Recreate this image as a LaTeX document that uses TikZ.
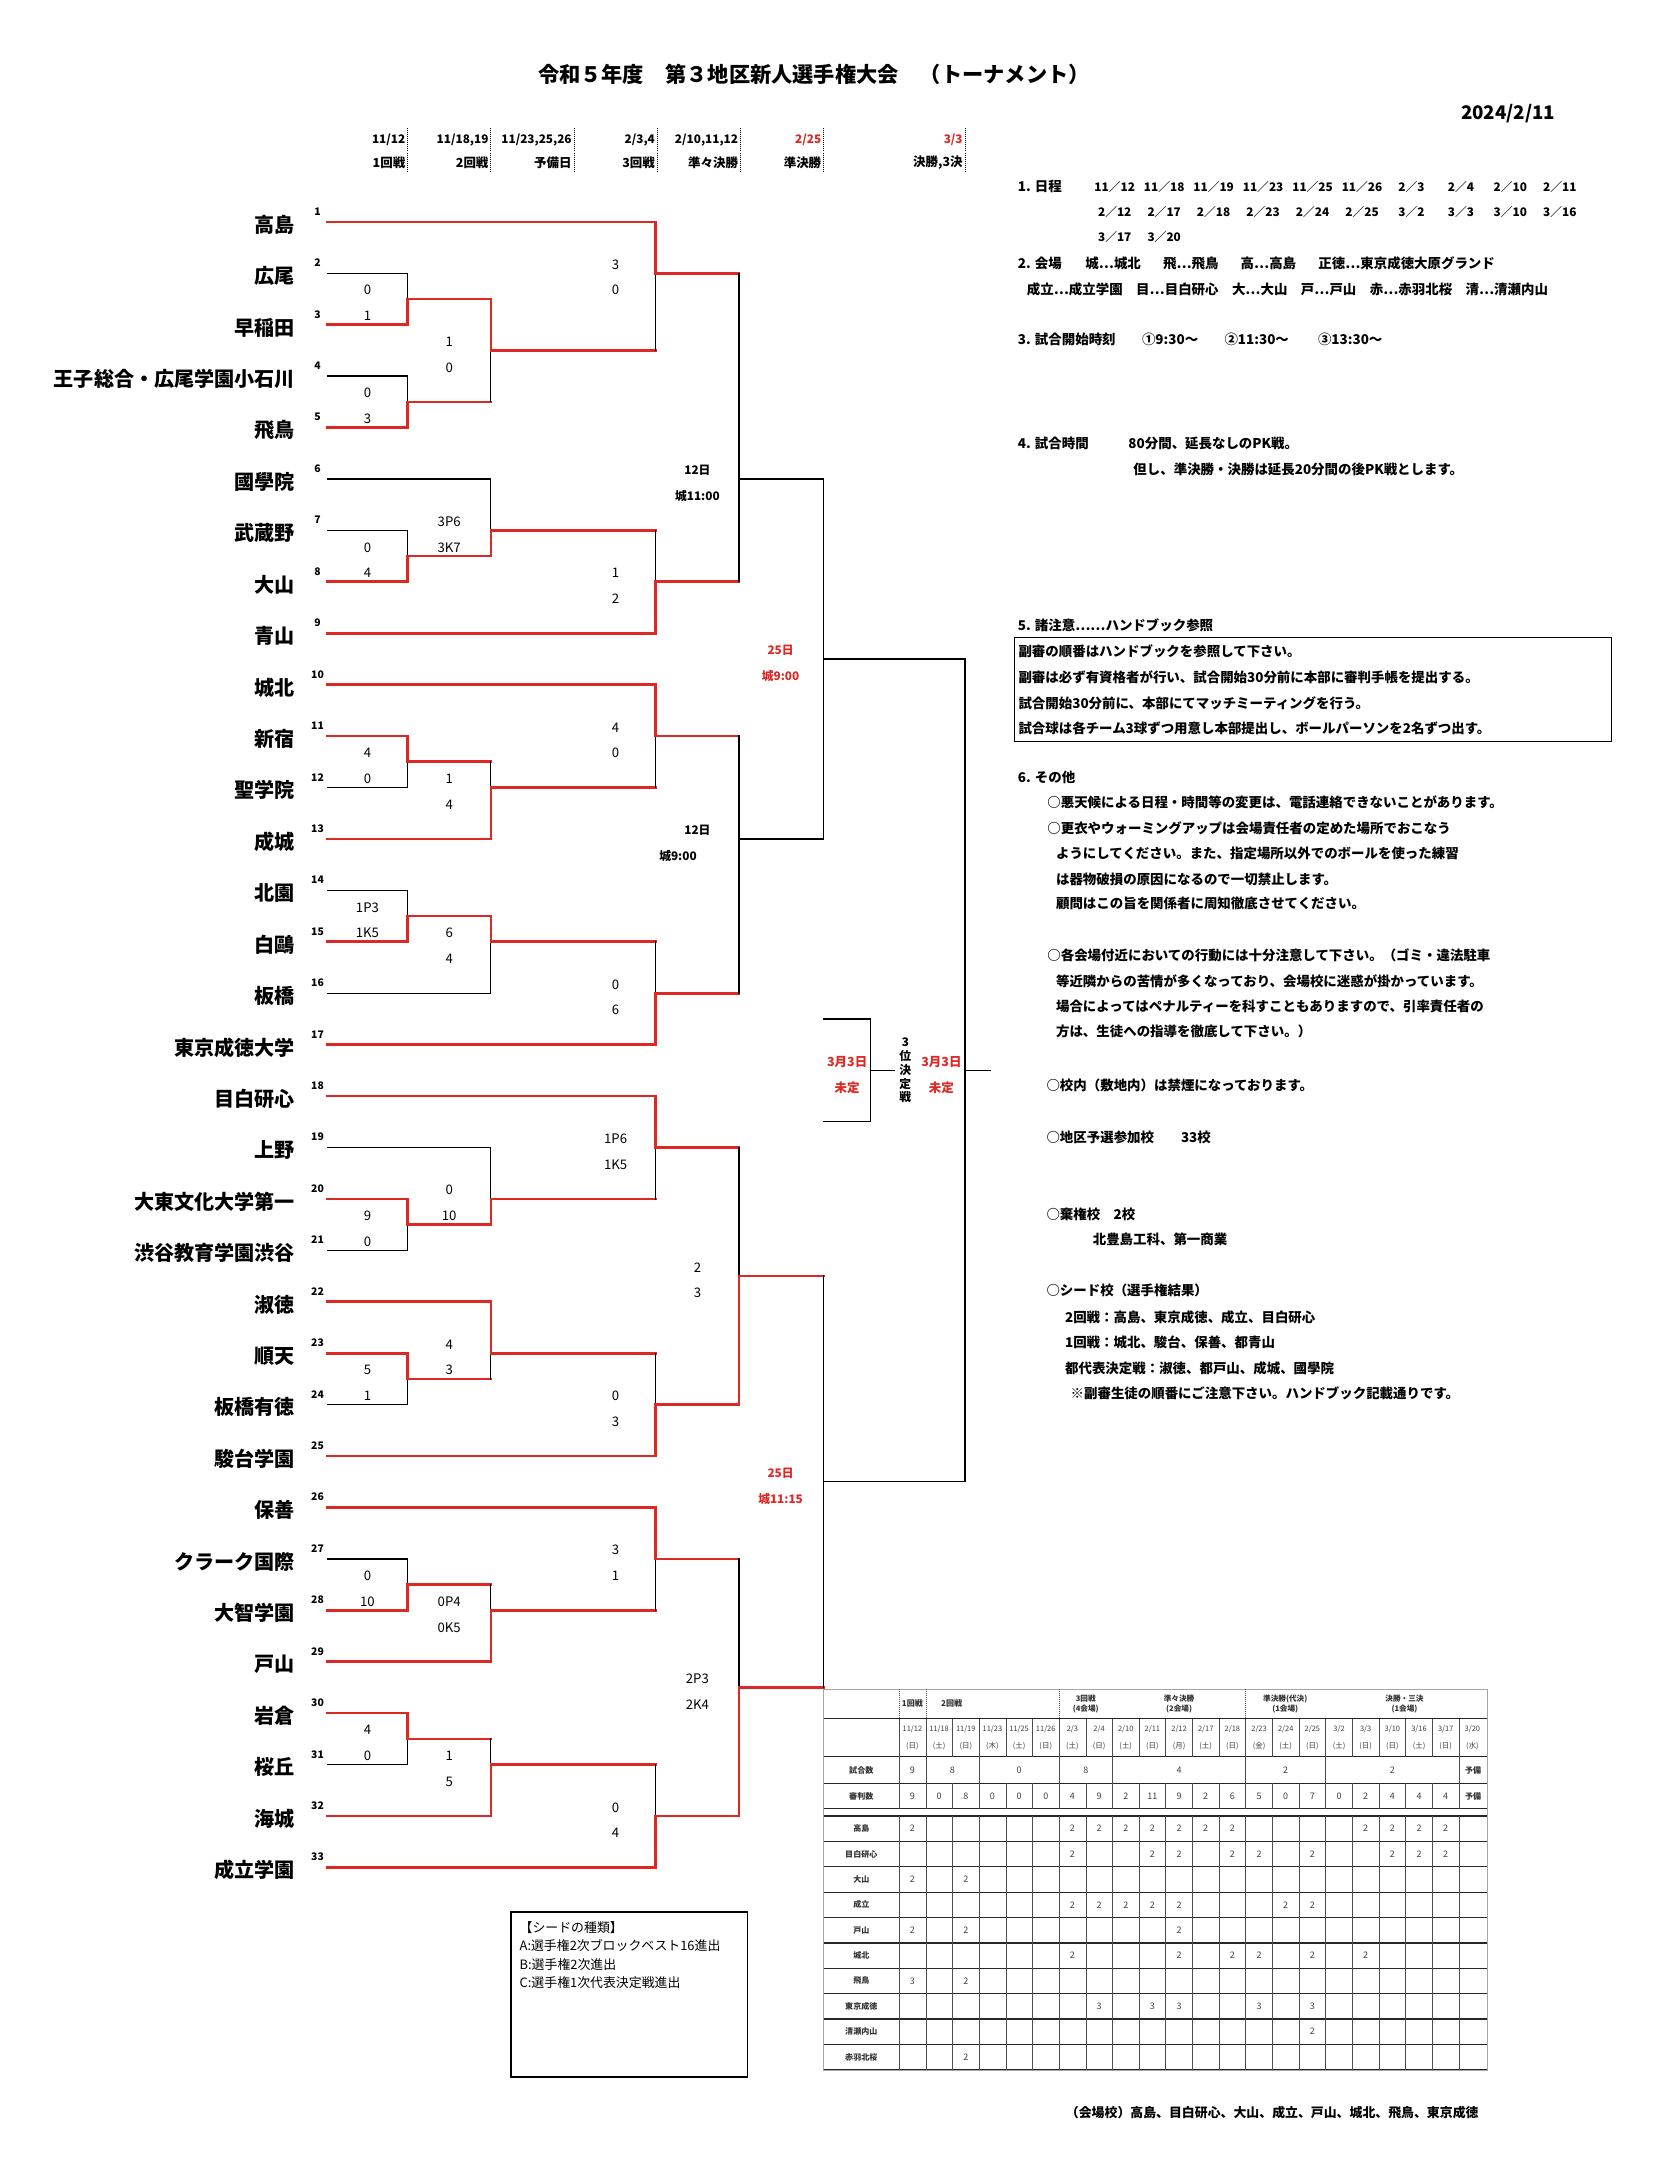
\documentclass[tikz,border=0pt]{standalone}
\usepackage{fontspec}
\setmainfont{Noto Sans CJK JP}
\usepackage{tikz}
\definecolor{bred}{RGB}{221,40,36}
\newcommand\fsz[1]{\fontsize{#1}{#1}\selectfont}

\tikzset{
  team/.style={anchor=east,inner sep=0pt,font=\bfseries\fsz{14.5}},
  num/.style={inner sep=0pt,font=\bfseries\fsz{7.5}},
  score/.style={inner sep=0pt,font=\fsz{9.5}},
  sched/.style={inner sep=0pt,font=\bfseries\fsz{8.5}},
  rsched/.style={sched,text=bred},
  win/.style={draw=bred,line width=1.9pt,line cap=rect},
  lose/.style={draw=black,line width=0.9pt,line cap=rect},
  hdr/.style={anchor=east,inner sep=0pt,font=\bfseries\fsz{8.5}},
  hsep/.style={densely dotted,line width=0.5pt},
  note/.style={anchor=west,inner sep=0pt,font=\bfseries\fsz{9.7}},
  dte/.style={inner sep=0pt,font=\bfseries\fsz{8.5}},
  tline/.style={line width=0.4pt,draw=black!70},
  trow/.style={line width=0.9pt,draw=black!85},
  cell/.style={inner sep=0pt,font=\fsz{6.5},text=black!75},
  rlab/.style={inner sep=0pt,font=\bfseries\fsz{5.8},text=black!80},
}

\begin{document}
\begin{tikzpicture}[x=1pt,y=-1pt]
\fill[white] (0,0) rectangle (1199,1568);
\useasboundingbox (0,0) rectangle (1199,1568);

% heading
\node[inner sep=0pt,font=\bfseries\fsz{15.3}] (ttl) at (587,54) {令和５年度　第３地区新人選手権大会　（トーナメント）};
\node[anchor=east,inner sep=0pt,font=\bfseries\fsz{13.5}] (day) at (1122,82) {2024/2/11};

\foreach \x in {294,354,414,474,534,594,696}
  \draw[hsep] (\x,92) -- (\x,125);
\node[hdr] (dt1) at (292.5,101) {11/12};
\node[hdr] (dt2) at (352.5,101) {11/18,19};
\node[hdr] (dt3) at (412.5,101) {11/23,25,26};
\node[hdr] (dt4) at (472.5,101) {2/3,4};
\node[hdr] (dt5) at (532.5,101) {2/10,11,12};
\node[hdr,text=bred] (dt6) at (592.5,101) {2/25};
\node[hdr,text=bred] (dt7) at (694.5,101) {3/3};
\node[hdr,font=\bfseries\fsz{9}] (rn1) at (292.5,117.5) {1回戦};
\node[hdr,font=\bfseries\fsz{9}] (rn2) at (352.5,117.5) {2回戦};
\node[hdr,font=\bfseries\fsz{9}] (rn3) at (412.5,117.5) {予備日};
\node[hdr,font=\bfseries\fsz{9}] (rn4) at (472.5,117.5) {3回戦};
\node[hdr,font=\bfseries\fsz{9}] (rn5) at (532.5,117.5) {準々決勝};
\node[hdr,font=\bfseries\fsz{9}] (rn6) at (592.5,117.5) {準決勝};
\node[hdr,font=\bfseries\fsz{9}] (rn7) at (694.5,117.5) {決勝,3決};

% bracket, one unit of y per team
\begin{scope}[yshift=-122.91pt,y=-37.09pt]
\begin{scope}[yshift=-2pt]
\node[team] (n1) at (213,1) {高島};
\node[team] (n2) at (213,2) {広尾};
\node[team] (n3) at (213,3) {早稲田};
\node[team] (n4) at (213,4) {王子総合・広尾学園小石川};
\node[team] (n5) at (213,5) {飛鳥};
\node[team] (n6) at (213,6) {國學院};
\node[team] (n7) at (213,7) {武蔵野};
\node[team] (n8) at (213,8) {大山};
\node[team] (n9) at (213,9) {青山};
\node[team] (n10) at (213,10) {城北};
\node[team] (n11) at (213,11) {新宿};
\node[team] (n12) at (213,12) {聖学院};
\node[team] (n13) at (213,13) {成城};
\node[team] (n14) at (213,14) {北園};
\node[team] (n15) at (213,15) {白鷗};
\node[team] (n16) at (213,16) {板橋};
\node[team] (n17) at (213,17) {東京成徳大学};
\node[team] (n18) at (213,18) {目白研心};
\node[team] (n19) at (213,19) {上野};
\node[team] (n20) at (213,20) {大東文化大学第一};
\node[team] (n21) at (213,21) {渋谷教育学園渋谷};
\node[team] (n22) at (213,22) {淑徳};
\node[team] (n23) at (213,23) {順天};
\node[team] (n24) at (213,24) {板橋有徳};
\node[team] (n25) at (213,25) {駿台学園};
\node[team] (n26) at (213,26) {保善};
\node[team] (n27) at (213,27) {クラーク国際};
\node[team] (n28) at (213,28) {大智学園};
\node[team] (n29) at (213,29) {戸山};
\node[team] (n30) at (213,30) {岩倉};
\node[team] (n31) at (213,31) {桜丘};
\node[team] (n32) at (213,32) {海城};
\node[team] (n33) at (213,33) {成立学園};
\end{scope}
\foreach \i in {1,...,33} {
  \node[num] (k\i) at (229,\i-0.2) {\i};
  \coordinate (s\i) at (236,\i);
}

% junctions
\coordinate (a1) at (294,2.5);
\coordinate (a2) at (294,4.5);
\coordinate (a3) at (294,7.5);
\coordinate (a4) at (294,11.5);
\coordinate (a5) at (294,14.5);
\coordinate (a6) at (294,20.5);
\coordinate (a7) at (294,23.5);
\coordinate (a8) at (294,27.5);
\coordinate (a9) at (294,30.5);
\coordinate (b1) at (354,3.5);
\coordinate (b2) at (354,7);
\coordinate (b3) at (354,12);
\coordinate (b4) at (354,15);
\coordinate (b5) at (354,20);
\coordinate (b6) at (354,23);
\coordinate (b7) at (354,28);
\coordinate (b8) at (354,31);
\coordinate (c1) at (473,2);
\coordinate (c2) at (473,8);
\coordinate (c3) at (473,11);
\coordinate (c4) at (473,16);
\coordinate (c5) at (473,19);
\coordinate (c6) at (473,24);
\coordinate (c7) at (473,27);
\coordinate (c8) at (473,32);
\coordinate (d1) at (533,6);
\coordinate (d2) at (533,13);
\coordinate (d3) at (533,21.5);
\coordinate (d4) at (533,29.5);
\coordinate (e1) at (594,9.5);
\coordinate (e2) at (594,25.5);
\coordinate (f1) at (696,17.5);
\coordinate (fo) at (714,17.5);
\coordinate (gt) at (594,16.5);
\coordinate (gb) at (594,18.5);
\coordinate (g1) at (628,17.5);
\coordinate (go) at (645,17.5);

% 1st round
\draw[lose] (s2) -| (a1);
\draw[win] (s3) -| (a1);
\draw[lose] (s4) -| (a2);
\draw[win] (s5) -| (a2);
\draw[lose] (s7) -| (a3);
\draw[win] (s8) -| (a3);
\draw[lose] (s12) -| (a4);
\draw[win] (s11) -| (a4);
\draw[lose] (s14) -| (a5);
\draw[win] (s15) -| (a5);
\draw[lose] (s21) -| (a6);
\draw[win] (s20) -| (a6);
\draw[lose] (s24) -| (a7);
\draw[win] (s23) -| (a7);
\draw[lose] (s27) -| (a8);
\draw[win] (s28) -| (a8);
\draw[lose] (s31) -| (a9);
\draw[win] (s30) -| (a9);
% 2nd round
\draw[win] (a2) -- (a2 -| b1) edge[lose] (b1);
\draw[win] (a1) -| (b1);
\draw[lose] (s6) -| (b2);
\draw[win] (a3) -| (b2);
\draw[win] (a4) -- (a4 -| b3) edge[lose] (b3);
\draw[win] (s13) -| (b3);
\draw[lose] (s16) -| (b4);
\draw[win] (a5) -| (b4);
\draw[lose] (s19) -| (b5);
\draw[win] (a6) -| (b5);
\draw[win] (a7) -- (a7 -| b6) edge[lose] (b6);
\draw[win] (s22) -| (b6);
\draw[win] (a8) -- (a8 -| b7) edge[lose] (b7);
\draw[win] (s29) -| (b7);
\draw[win] (a9) -- (a9 -| b8) edge[lose] (b8);
\draw[win] (s32) -| (b8);
% 3rd round
\draw[win] (b1) -- (b1 -| c1) edge[lose] (c1);
\draw[win] (s1) -| (c1);
\draw[win] (b2) -- (b2 -| c2) edge[lose] (c2);
\draw[win] (s9) -| (c2);
\draw[win] (b3) -- (b3 -| c3) edge[lose] (c3);
\draw[win] (s10) -| (c3);
\draw[win] (b4) -- (b4 -| c4) edge[lose] (c4);
\draw[win] (s17) -| (c4);
\draw[win] (b5) -- (b5 -| c5) edge[lose] (c5);
\draw[win] (s18) -| (c5);
\draw[win] (b6) -- (b6 -| c6) edge[lose] (c6);
\draw[win] (s25) -| (c6);
\draw[win] (b7) -- (b7 -| c7) edge[lose] (c7);
\draw[win] (s26) -| (c7);
\draw[win] (b8) -- (b8 -| c8) edge[lose] (c8);
\draw[win] (s33) -| (c8);
% quarter-finals
\draw[win] (c1) -- (c1 -| d1) edge[lose] (d1);
\draw[win] (c2) -- (c2 -| d1) edge[lose] (d1);
\draw[win] (c3) -- (c3 -| d2) edge[lose] (d2);
\draw[win] (c4) -- (c4 -| d2) edge[lose] (d2);
\draw[win] (c5) -- (c5 -| d3) edge[lose] (d3);
\draw[win] (c6) -| (d3);
\draw[win] (c7) -- (c7 -| d4) edge[lose] (d4);
\draw[win] (c8) -| (d4);
% semi-finals, final, 3rd place
\draw[lose] (d1) -| (e1);
\draw[lose] (d2) -| (e1);
\draw[win] (d3) -- (d3 -| e2) edge[lose] (e2);
\draw[win] (d4) -- (d4 -| e2) edge[lose] (e2);
\draw[lose] (e1) -| (f1);
\draw[lose] (e2) -| (f1);
\draw[lose] (f1) -- (fo);
\draw[lose] (gt) -| (g1);
\draw[lose] (gb) -| (g1);
\draw[lose] (g1) -- (go);

% scores
\begin{scope}[yshift=-3pt]
\node[score] (a1u) at (265,2.25) {0};   \node[score] (a1l) at (265,2.75) {1};
\node[score] (a2u) at (265,4.25) {0};   \node[score] (a2l) at (265,4.75) {3};
\node[score] (a3u) at (265,7.25) {0};   \node[score] (a3l) at (265,7.75) {4};
\node[score] (a4u) at (265,11.25) {4};  \node[score] (a4l) at (265,11.75) {0};
\node[score] (a5u) at (265,14.25) {1P3}; \node[score] (a5l) at (265,14.75) {1K5};
\node[score] (a6u) at (265,20.25) {9};  \node[score] (a6l) at (265,20.75) {0};
\node[score] (a7u) at (265,23.25) {5};  \node[score] (a7l) at (265,23.75) {1};
\node[score] (a8u) at (265,27.25) {0};  \node[score] (a8l) at (265,27.75) {10};
\node[score] (a9u) at (265,30.25) {4};  \node[score] (a9l) at (265,30.75) {0};
\node[score] (b1u) at (324,3.25) {1};   \node[score] (b1l) at (324,3.75) {0};
\node[score] (b2u) at (324,6.75) {3P6}; \node[score] (b2l) at (324,7.25) {3K7};
\node[score] (b3u) at (324,11.75) {1};  \node[score] (b3l) at (324,12.25) {4};
\node[score] (b4u) at (324,14.75) {6};  \node[score] (b4l) at (324,15.25) {4};
\node[score] (b5u) at (324,19.75) {0};  \node[score] (b5l) at (324,20.25) {10};
\node[score] (b6u) at (324,22.75) {4};  \node[score] (b6l) at (324,23.25) {3};
\node[score] (b7u) at (324,27.75) {0P4}; \node[score] (b7l) at (324,28.25) {0K5};
\node[score] (b8u) at (324,30.75) {1};  \node[score] (b8l) at (324,31.25) {5};
\node[score] (c1u) at (444,1.75) {3};   \node[score] (c1l) at (444,2.25) {0};
\node[score] (c2u) at (444,7.75) {1};   \node[score] (c2l) at (444,8.25) {2};
\node[score] (c3u) at (444,10.75) {4};  \node[score] (c3l) at (444,11.25) {0};
\node[score] (c4u) at (444,15.75) {0};  \node[score] (c4l) at (444,16.25) {6};
\node[score] (c5u) at (444,18.75) {1P6}; \node[score] (c5l) at (444,19.25) {1K5};
\node[score] (c6u) at (444,23.75) {0};  \node[score] (c6l) at (444,24.25) {3};
\node[score] (c7u) at (444,26.75) {3};  \node[score] (c7l) at (444,27.25) {1};
\node[score] (c8u) at (444,31.75) {0};  \node[score] (c8l) at (444,32.25) {4};
\node[sched] (d1u) at (503,5.75) {12日}; \node[sched] (d1l) at (503,6.25) {城11:00};
\node[sched] (d2u) at (503,12.75) {12日}; \node[sched] (d2l) at (489,13.25) {城9:00};
\node[score] (d3u) at (503,21.25) {2};  \node[score] (d3l) at (503,21.75) {3};
\node[score] (d4u) at (503,29.25) {2P3}; \node[score] (d4l) at (503,29.75) {2K4};
\node[rsched] (e1u) at (563,9.25) {25日}; \node[rsched] (e1l) at (563,9.75) {城9:00};
\node[rsched] (e2u) at (563,25.25) {25日}; \node[rsched] (e2l) at (563,25.75) {城11:15};
\node[rsched,font=\bfseries\fsz{9}] (g1u) at (611,17.25) {3月3日};
\node[rsched,font=\bfseries\fsz{9}] (g1l) at (611,17.75) {未定};
\node[rsched,font=\bfseries\fsz{9}] (f1u) at (679,17.25) {3月3日};
\node[rsched,font=\bfseries\fsz{9}] (f1l) at (679,17.75) {未定};
\end{scope}
\node[sched,align=center,font=\bfseries\fontsize{8.5}{10}\selectfont] (g1t) at (653,17.5) {3\\位\\決\\定\\戦};
\end{scope}

% notes on the right
\node[note] (h1) at (734,134.6) {1. 日程};
\foreach \d [count=\n from 0] in {11／12,11／18,11／19,11／23,11／25,11／26,2／3,2／4,2／10,2／11}
  \node[dte] (da\n) at (804+35.67*\n,134.6) {\d};
\foreach \d [count=\n from 0] in {2／12,2／17,2／18,2／23,2／24,2／25,3／2,3／3,3／10,3／16}
  \node[dte] (db\n) at (804+35.67*\n,152.6) {\d};
\foreach \d [count=\n from 0] in {3／17,3／20}
  \node[dte] (dc\n) at (804+35.67*\n,171) {\d};
\node[note] (h2) at (734,190) {2. 会場\hspace{17pt}城…城北\hspace{16pt}飛…飛鳥\hspace{16pt}高…高島\hspace{16pt}正徳…東京成徳大原グランド};
\node[note] (h2b) at (740.5,208.6) {成立…成立学園　目…目白研心　大…大山　戸…戸山　赤…赤羽北桜　清…清瀬内山};
\node[note] (h3) at (734,245) {3. 試合開始時刻\hspace{19pt}①9:30～\hspace{19pt}②11:30～\hspace{21pt}③13:30～};
\node[note] (h4) at (734,319.5) {4. 試合時間};
\node[note] (h4a) at (813.7,319.5) {80分間、延長なしのPK戦。};
\node[note] (h4b) at (817.3,338.5) {但し、準決勝・決勝は延長20分間の後PK戦とします。};
\node[note] (h5) at (734,450.8) {5. 諸注意……ハンドブック参照};
\draw[line width=0.8pt] (731.5,460) rectangle (1162,535);
\node[note] (h5a) at (734.4,469.8) {副審の順番はハンドブックを参照して下さい。};
\node[note] (h5b) at (734.4,488.8) {副審は必ず有資格者が行い、試合開始30分前に本部に審判手帳を提出する。};
\node[note] (h5c) at (734.4,507.6) {試合開始30分前に、本部にてマッチミーティングを行う。};
\node[note] (h5d) at (734.4,525.4) {試合球は各チーム3球ずつ用意し本部提出し、ボールパーソンを2名ずつ出す。};
\node[note] (h6) at (734,561) {6. その他};
\node[note] (h6a) at (755.2,578.8) {○悪天候による日程・時間等の変更は、電話連絡できないことがあります。};
\node[note] (h6b) at (755.2,597.4) {○更衣やウォーミングアップは会場責任者の定めた場所でおこなう};
\node[note] (h6c) at (761.5,615.3) {ようにしてください。また、指定場所以外でのボールを使った練習};
\node[note] (h6d) at (761.5,634.4) {は器物破損の原因になるので一切禁止します。};
\node[note] (h6e) at (761.5,651.8) {顧問はこの旨を関係者に周知徹底させてください。};
\node[note] (h6f) at (755.2,689.3) {○各会場付近においての行動には十分注意して下さい。（ゴミ・違法駐車};
\node[note] (h6g) at (761.5,707.9) {等近隣からの苦情が多くなっており、会場校に迷惑が掛かっています。};
\node[note] (h6h) at (761.5,725.8) {場合によってはペナルティーを科すこともありますので、引率責任者の};
\node[note] (h6i) at (761.5,744.2) {方は、生徒への指導を徹底して下さい。）};
\node[note] (h6j) at (754.6,783) {○校内（敷地内）は禁煙になっております。};
\node[note] (h6k) at (754.6,820) {○地区予選参加校};
\node[note] (h6l) at (851.6,820) {33校};
\node[note] (h6m) at (754.6,876) {○棄権校};
\node[note] (h6n) at (803,876) {2校};
\node[note] (h6o) at (788,894) {北豊島工科、第一商業};
\node[note] (h6p) at (754.6,931) {○シード校（選手権結果）};
\node[note] (h6q) at (768,950) {2回戦：高島、東京成徳、成立、目白研心};
\node[note] (h6r) at (768,968) {1回戦：城北、駿台、保善、都青山};
\node[note] (h6s) at (768,987) {都代表決定戦：淑徳、都戸山、成城、國學院};
\node[note] (h6t) at (772,1005) {※副審生徒の順番にご注意下さい。ハンドブック記載通りです。};

% seed legend
\draw[line width=0.9pt] (368.5,1379) rectangle (539,1498);
\node[anchor=west,inner sep=0pt,font=\fsz{9.3}] (sd0) at (374.6,1390) {【シードの種類】};
\node[anchor=west,inner sep=0pt,font=\fsz{9.3}] (sd1) at (374.6,1403.5) {A:選手権2次ブロックベスト16進出};
\node[anchor=west,inner sep=0pt,font=\fsz{9.3}] (sd2) at (374.6,1416.7) {B:選手権2次進出};
\node[anchor=west,inner sep=0pt,font=\fsz{9.3}] (sd3) at (374.6,1430) {C:選手権1次代表決定戦進出};

% referee table
\draw[line width=0.7pt,draw=black!35] (594,1218.5) rectangle (1072.7,1493);
\foreach \y in {1239.6,1267,1286.3,1304.5,1309.8,1328.1,1346.4,1364.7,1383,1401.3,1419.6,1437.9,1456.2,1474.5,1492.8}
  \draw[trow] (594,\y) -- (1072.7,\y);
\foreach \x in {648.5,667.73,763.88,898.49}
  \draw[tline,densely dotted] (\x,1218.5) -- (\x,1239.6);
\foreach \k in {0,...,21} {
  \pgfmathsetmacro\cx{648.5+19.23*\k}
  \draw[tline] (\cx,1239.6) -- (\cx,1267);
  \draw[tline] (\cx,1286.3) -- (\cx,1304.5);
  \draw[tline] (\cx,1309.8) -- (\cx,1492.8);
}
\foreach \k in {0,1,3,6,8,13,16,21} {
  \pgfmathsetmacro\cx{648.5+19.23*\k}
  \draw[tline] (\cx,1267) -- (\cx,1286.3);
}
\node[rlab] (tr1) at (658.1,1228.5) {1回戦};
\node[rlab] (tr2) at (686.4,1228.5) {2回戦};
\node[rlab,align=center,font=\bfseries\fontsize{5.5}{7.5}\selectfont] (tr3) at (783.1,1229) {3回戦\\(4会場)};
\node[rlab,align=center,font=\bfseries\fontsize{5.5}{7.5}\selectfont] (tr4) at (850.4,1229) {準々決勝\\(2会場)};
\node[rlab,align=center,font=\bfseries\fontsize{5.5}{7.5}\selectfont] (tr5) at (927,1229) {準決勝(代決)\\(1会場)};
\node[rlab,align=center,font=\bfseries\fontsize{5.5}{7.5}\selectfont] (tr6) at (1013,1229) {決勝・三決\\(1会場)};
\foreach \d [count=\k from 0] in {11/12,11/18,11/19,11/23,11/25,11/26,2/3,2/4,2/10,2/11,2/12,2/17,2/18,2/23,2/24,2/25,3/2,3/3,3/10,3/16,3/17,3/20}
  \node[cell,font=\fsz{5.4}] (td\k) at (658.1+19.23*\k,1247.5) {\d};
\foreach \w [count=\k from 0] in {日,土,日,木,土,日,土,日,土,日,月,土,日,金,土,日,土,日,日,土,日,水}
  \node[cell,font=\fsz{5.4}] (tw\k) at (658.1+19.23*\k,1259.5) {(\w)};
\node[rlab] (tl1) at (621.2,1276.6) {試合数};
\node[rlab] (tl2) at (621.2,1295.4) {審判数};
\foreach \c/\v [count=\n] in {0/9,1.5/8,4/0,6.5/8,10/4,14/2,18/2}
  \node[cell] (tg\n) at (658.1+19.23*\c,1276.6) {\v};
\node[rlab] (tg8) at (1062.5,1276.6) {予備};
\foreach \v [count=\k from 0] in {9,0,8,0,0,0,4,9,2,11,9,2,6,5,0,7,0,2,4,4,4}
  \node[cell] (tj\k) at (658.1+19.23*\k,1295.4) {\v};
\node[rlab] (tj21) at (1062.5,1295.4) {予備};
\foreach \lab [count=\r from 0] in {高島,目白研心,大山,成立,戸山,城北,飛鳥,東京成徳,清瀬内山,赤羽北桜}
  \node[rlab] (tb\r) at (621.2,1318.95+18.3*\r) {\lab};
\foreach \k in {0,6,7,8,9,10,11,12,17,18,19,20}
  \node[cell] (ta\k) at (658.1+19.23*\k,1318.95) {2};
\foreach \k in {6,9,10,12,13,15,18,19,20}
  \node[cell] (tm\k) at (658.1+19.23*\k,1337.25) {2};
\foreach \k in {0,2}
  \node[cell] (to\k) at (658.1+19.23*\k,1355.55) {2};
\foreach \k in {6,7,8,9,10,14,15}
  \node[cell] (ts\k) at (658.1+19.23*\k,1373.85) {2};
\foreach \k in {0,2,10}
  \node[cell] (tt\k) at (658.1+19.23*\k,1392.15) {2};
\foreach \k in {6,10,12,13,15,17}
  \node[cell] (tn\k) at (658.1+19.23*\k,1410.45) {2};
\node[cell] (tx0) at (658.1,1428.75) {3};
\node[cell] (tx2) at (696.56,1428.75) {2};
\foreach \k in {7,9,10,13,15}
  \node[cell] (tk\k) at (658.1+19.23*\k,1447.05) {3};
\node[cell] (tu15) at (946.55,1465.35) {2};
\node[cell] (tv2) at (696.56,1483.65) {2};

% venue footer
\node[anchor=west,inner sep=0pt,font=\bfseries\fsz{9.3}] (ft) at (768.6,1524) {（会場校）高島、目白研心、大山、成立、戸山、城北、飛鳥、東京成徳};
\end{tikzpicture}
\end{document}
